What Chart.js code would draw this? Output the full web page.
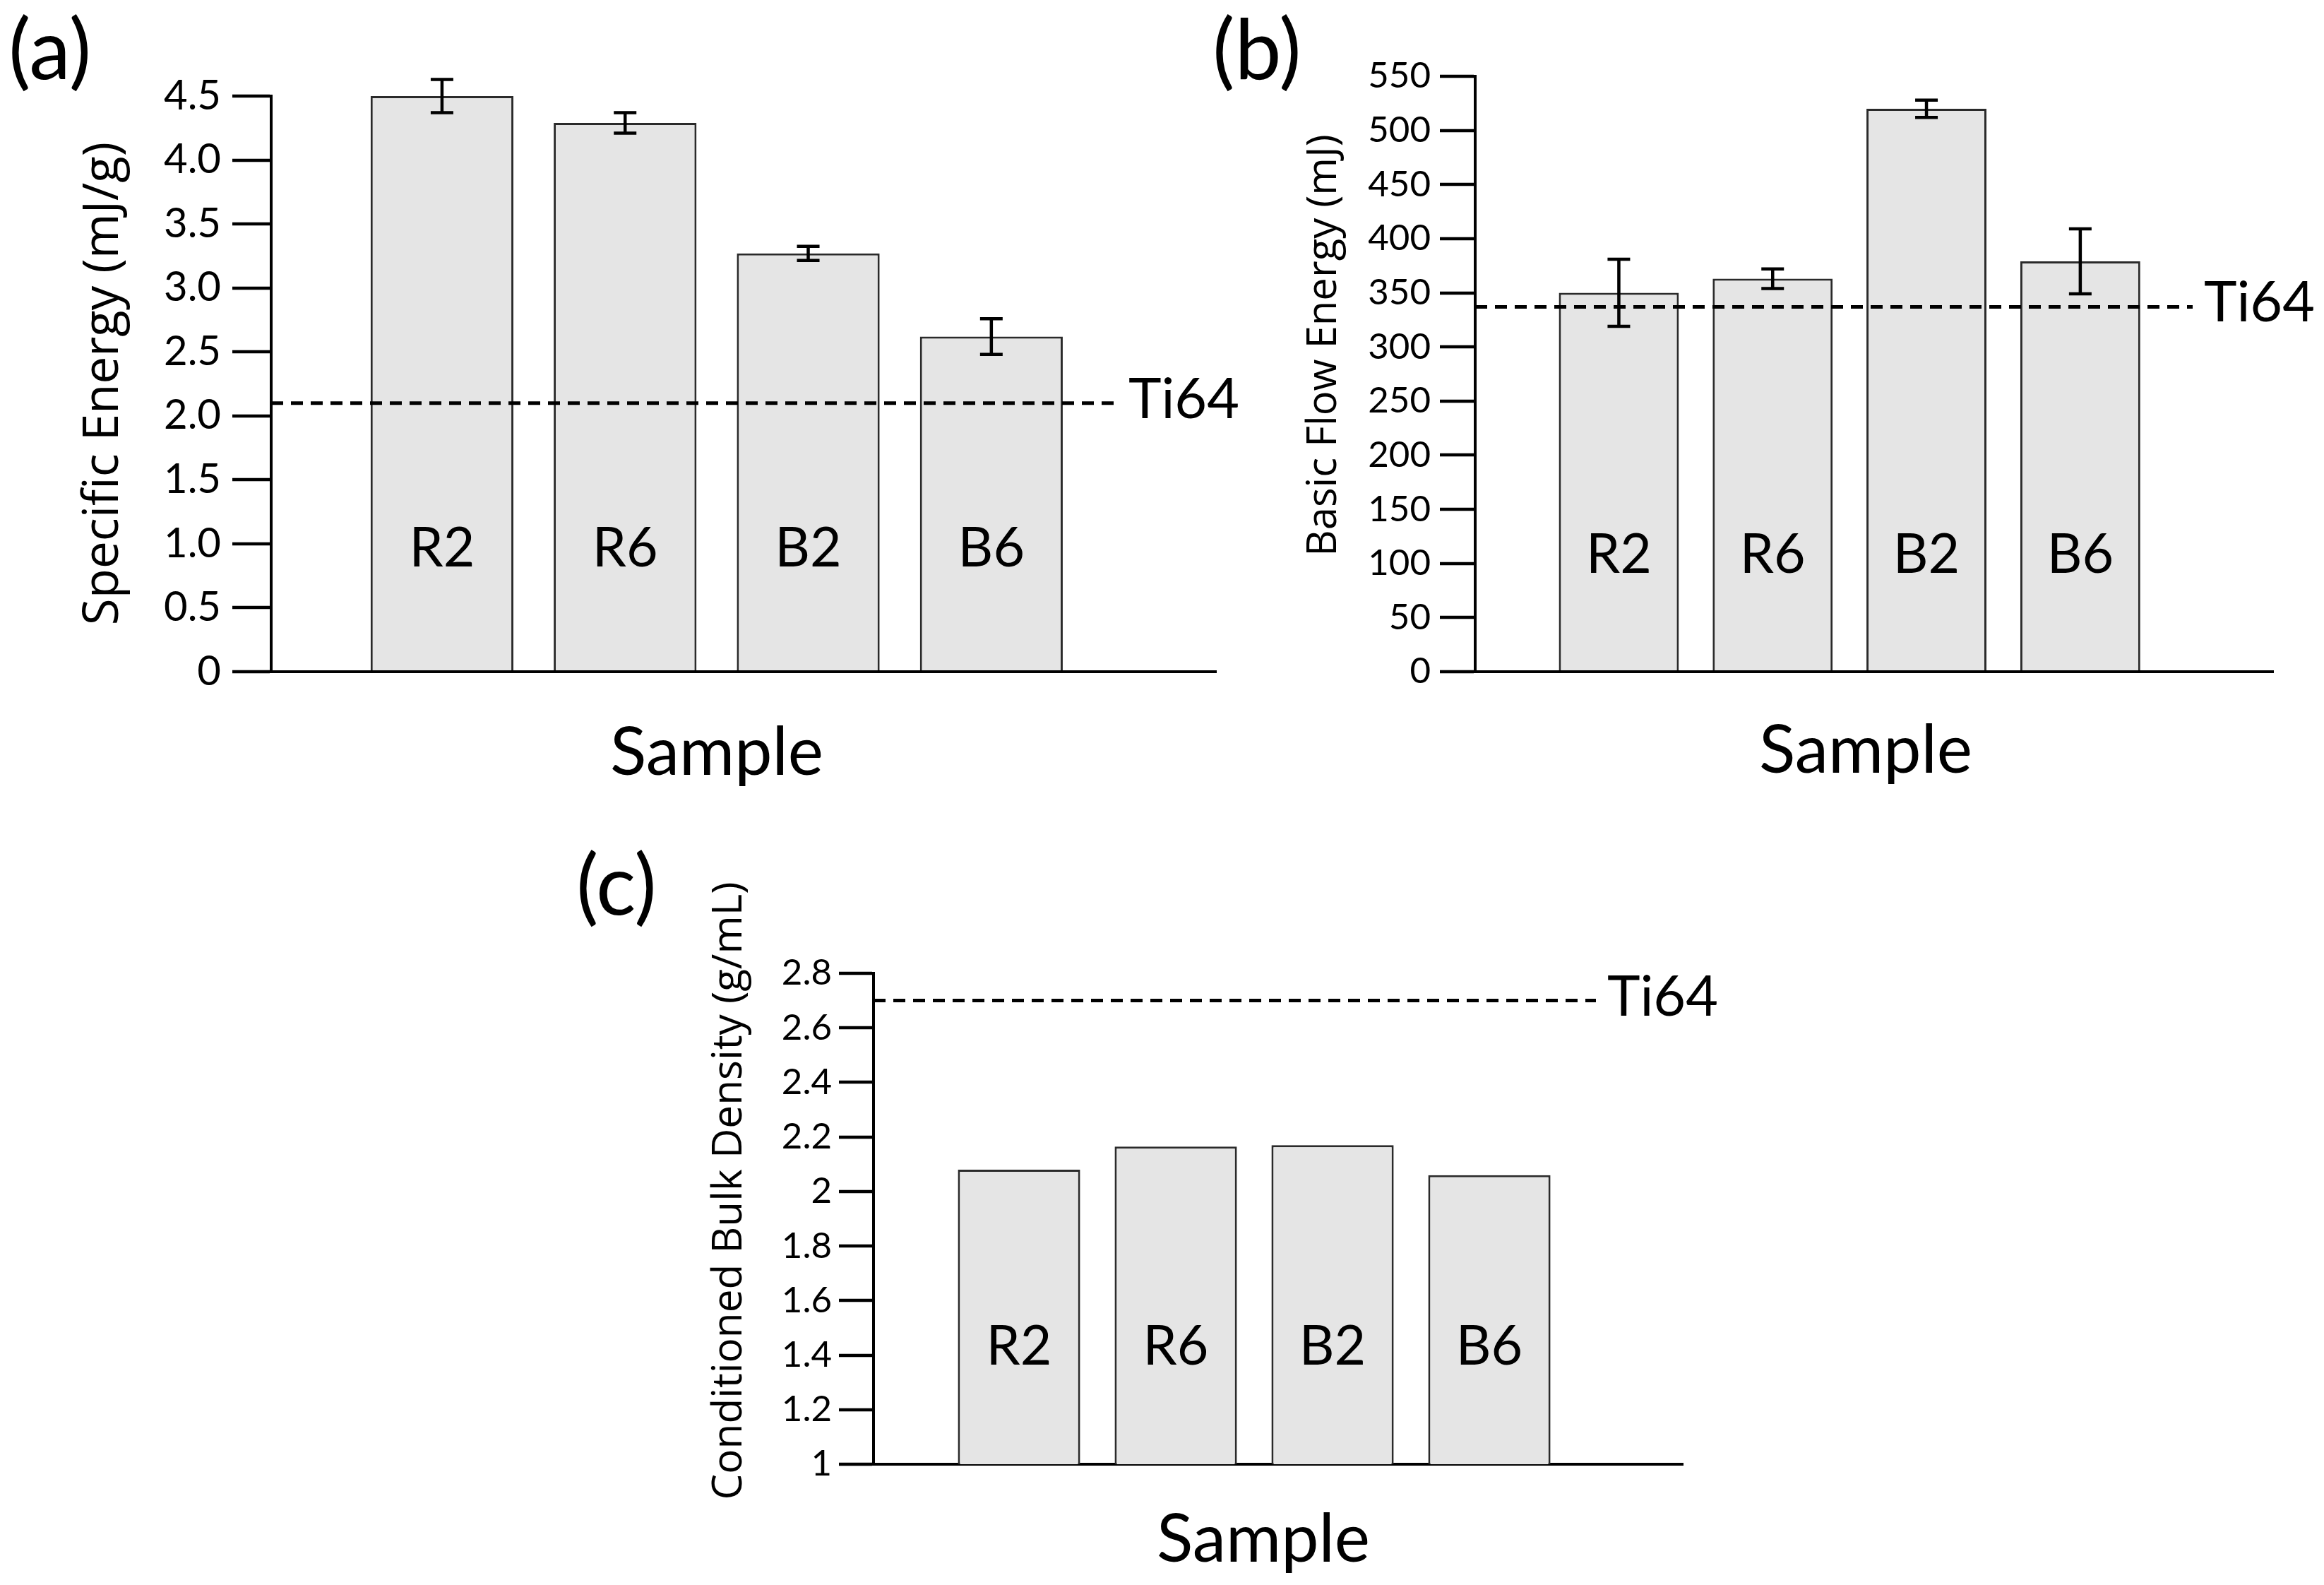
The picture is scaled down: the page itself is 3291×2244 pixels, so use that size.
<!DOCTYPE html>
<html>
<head>
<meta charset="utf-8">
<script src="https://cdn.jsdelivr.net/npm/chart.js@4.4.1/dist/chart.umd.min.js"></script>
<style>
html, body { margin: 0; padding: 0; background: #ffffff; width: 3291px; height: 2244px; overflow: hidden; }
canvas { position: absolute; left: 0; top: 0; }
</style>
</head>
<body>
<canvas id="chartA" width="3291" height="2244"></canvas>
<canvas id="chartB" width="3291" height="2244"></canvas>
<canvas id="chartC" width="3291" height="2244"></canvas>
<script>
// ---------- DATA ----------
const categories = ['R2', 'R6', 'B2', 'B6'];

// (a) Specific Energy (mJ/g)
const specificEnergy = [4.50, 4.29, 3.27, 2.62];
const specificEnergyErr = [0.13, 0.08, 0.055, 0.14];
const ti64SpecificEnergy = 2.1;
const yTicksA = ['0', '0.5', '1.0', '1.5', '2.0', '2.5', '3.0', '3.5', '4.0', '4.5'];

// (b) Basic Flow Energy (mJ)
const basicFlowEnergy = [350, 363, 520, 379];
const basicFlowEnergyErr = [31, 9, 8, 30];
const ti64BasicFlowEnergy = 337;
const yTicksB = ['0', '50', '100', '150', '200', '250', '300', '350', '400', '450', '500', '550'];

// (c) Conditioned Bulk Density (g/mL)
const bulkDensity = [2.08, 2.165, 2.17, 2.06];
const ti64BulkDensity = 2.7;
const yTicksC = ['1', '1.2', '1.4', '1.6', '1.8', '2', '2.2', '2.4', '2.6', '2.8'];

const refLabel = 'Ti64';
const xTitle = 'Sample';

// ---------- DECORATION PLUGIN ----------
const deco = {
  id: 'deco',
  afterDatasetsDraw(chart, args, o) {
    const { ctx, chartArea, scales: { x, y } } = chart;
    ctx.save();
    ctx.fillStyle = '#000';
    ctx.strokeStyle = '#000';

    // reference dashed line
    const ry = y.getPixelForValue(o.refValue);
    ctx.lineWidth = 5;
    ctx.setLineDash([17, 11]);
    ctx.beginPath();
    ctx.moveTo(chartArea.left, ry);
    ctx.lineTo(o.refEnd, ry);
    ctx.stroke();
    ctx.setLineDash([]);
    ctx.font = '79px Lato';
    ctx.textAlign = 'left';
    ctx.textBaseline = 'alphabetic';
    ctx.fillText(refLabel, o.refEnd + 16, ry + 21);

    // error bars
    if (o.values && o.errors) {
      ctx.lineWidth = 4.5;
      o.values.forEach((v, i) => {
        const px = x.getPixelForValue(i + 1);
        const t = y.getPixelForValue(v + o.errors[i]);
        const b = y.getPixelForValue(v - o.errors[i]);
        ctx.beginPath();
        ctx.moveTo(px, t); ctx.lineTo(px, b);
        ctx.moveTo(px - 16, t); ctx.lineTo(px + 16, t);
        ctx.moveTo(px - 16, b); ctx.lineTo(px + 16, b);
        ctx.stroke();
      });
    }

    // category labels inside bars
    ctx.font = '77px Lato';
    ctx.textAlign = 'center';
    categories.forEach((c, i) => {
      ctx.fillText(c, x.getPixelForValue(i + 1), chartArea.bottom - o.labelOffset);
    });

    // x title
    ctx.font = '95px Lato';
    ctx.fillText(xTitle, o.xTitleX, o.xTitleY);

    // y title (rotated)
    ctx.save();
    ctx.translate(o.yTitleX, o.yTitleY);
    ctx.rotate(-Math.PI / 2);
    ctx.font = o.yTitleSize + 'px "Open Sans"';
    ctx.textAlign = 'center';
    ctx.fillText(o.yTitle, 0, 0);
    ctx.restore();

    // panel letter
    ctx.font = '118px Lato';
    ctx.textAlign = 'left';
    ctx.fillText(o.letter, o.letterX, o.letterY);

    ctx.restore();
  }
};

const Y_SCALE_W = 200;

function makeChart(id, values, cfg) {
  return new Chart(document.getElementById(id), {
    type: 'bar',
    data: {
      datasets: [{
        data: categories.map((c, i) => ({ x: i + 1, y: values[i] })),
        backgroundColor: '#e5e5e5',
        borderColor: '#2a2a2a',
        borderWidth: 3,
        categoryPercentage: 1,
        barPercentage: 0.78
      }]
    },
    options: {
      responsive: false,
      animation: false,
      events: [],
      layout: { padding: cfg.padding },
      scales: {
        x: {
          type: 'linear',
          min: cfg.xMin,
          max: cfg.xMax,
          offset: false,
          ticks: { display: false },
          grid: { display: false, drawTicks: false, offset: false },
          border: { display: true, color: '#000', width: 4 },
          title: { display: false },
          afterBuildTicks: s => { s.ticks = categories.map((c, i) => ({ value: i + 1 })); },
          afterFit: s => { s.height = 0; }
        },
        y: {
          min: cfg.yMin,
          max: cfg.yMax,
          beginAtZero: false,
          ticks: {
            stepSize: cfg.step,
            autoSkip: false,
            color: '#000',
            padding: cfg.tickPad,
            font: { family: 'Lato', size: cfg.tickSize },
            callback: (v, i) => cfg.tickLabels[i]
          },
          grid: {
            display: true,
            drawOnChartArea: false,
            drawTicks: true,
            tickLength: cfg.tickLen,
            tickWidth: 4.5,
            tickColor: '#000',
            lineWidth: 4,
            color: '#000'
          },
          border: { display: true, color: '#000', width: 4 },
          afterFit: s => { s.width = Y_SCALE_W; }
        }
      },
      plugins: {
        legend: { display: false },
        tooltip: { enabled: false },
        deco: cfg.deco
      }
    },
    plugins: [deco]
  });
}

// (a)
makeChart('chartA', specificEnergy, {
  padding: { left: 384 - Y_SCALE_W, top: 136, right: 3291 - 1722, bottom: 2244 - 951 },
  xMin: 0.067, xMax: 5.227,
  yMin: 0, yMax: 4.5, step: 0.5, tickLabels: yTicksA,
  tickSize: 58, tickPad: 16, tickLen: 55,
  deco: {
    refValue: ti64SpecificEnergy, refEnd: 1582,
    values: specificEnergy, errors: specificEnergyErr,
    labelOffset: 149,
    xTitleX: 1015, xTitleY: 1097,
    yTitle: 'Specific Energy (mJ/g)', yTitleSize: 69, yTitleX: 167, yTitleY: 543,
    letter: '(a)', letterX: 12, letterY: 112
  }
});

// (b)
makeChart('chartB', basicFlowEnergy, {
  padding: { left: 2089 - Y_SCALE_W, top: 108, right: 3291 - 3219, bottom: 2244 - 951 },
  xMin: 0.066, xMax: 5.254,
  yMin: 0, yMax: 550, step: 50, tickLabels: yTicksB,
  tickSize: 51, tickPad: 13, tickLen: 50,
  deco: {
    refValue: ti64BasicFlowEnergy, refEnd: 3105,
    values: basicFlowEnergy, errors: basicFlowEnergyErr,
    labelOffset: 140,
    xTitleX: 2642, xTitleY: 1094,
    yTitle: 'Basic Flow Energy (mJ)', yTitleSize: 58, yTitleX: 1892, yTitleY: 489,
    letter: '(b)', letterX: 1717, letterY: 112
  }
});

// (c)
makeChart('chartC', bulkDensity, {
  padding: { left: 1237 - Y_SCALE_W, top: 1378, right: 3291 - 2383, bottom: 2244 - 2073 },
  xMin: 0.072, xMax: 5.234,
  yMin: 1, yMax: 2.8, step: 0.2, tickLabels: yTicksC,
  tickSize: 51, tickPad: 10, tickLen: 49,
  deco: {
    refValue: ti64BulkDensity, refEnd: 2260,
    values: null, errors: null,
    labelOffset: 141,
    xTitleX: 1789, xTitleY: 2211,
    yTitle: 'Conditioned Bulk Density (g/mL)', yTitleSize: 58.5, yTitleX: 1050, yTitleY: 1686,
    letter: '(c)', letterX: 816, letterY: 1295
  }
});
</script>
</body>
</html>
